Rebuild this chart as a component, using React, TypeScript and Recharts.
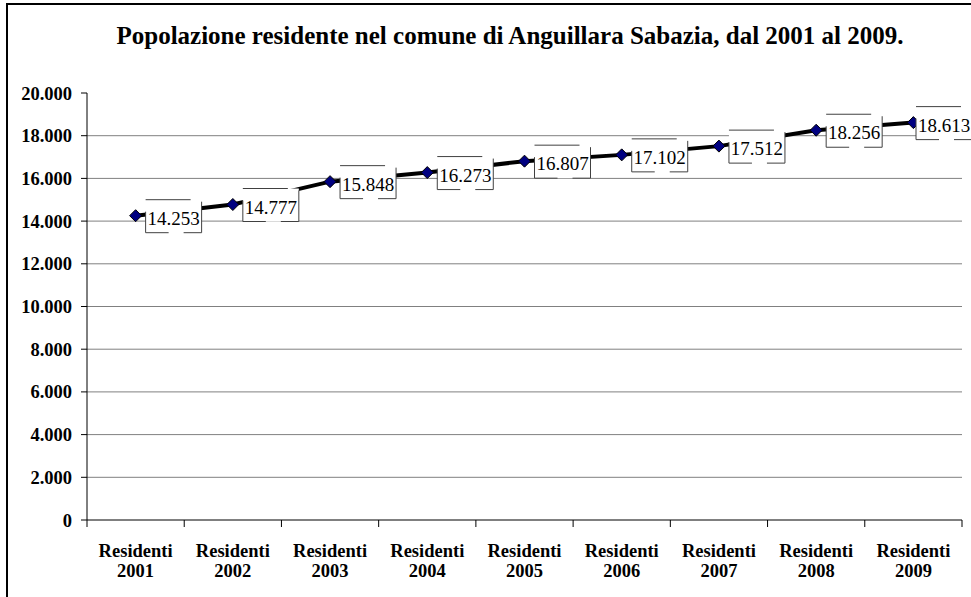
import React from 'react';
import { LineChart, Line, XAxis, YAxis, ReferenceLine, LabelList } from 'recharts';

const categories = ['Residenti 2001', 'Residenti 2002', 'Residenti 2003', 'Residenti 2004', 'Residenti 2005', 'Residenti 2006', 'Residenti 2007', 'Residenti 2008', 'Residenti 2009'];
const residents = [14253, 14777, 15848, 16273, 16807, 17102, 17512, 18256, 18613];
const yTicks = [0, 2000, 4000, 6000, 8000, 10000, 12000, 14000, 16000, 18000, 20000];
const gridValues = [2000, 4000, 6000, 8000, 10000, 12000, 14000, 16000, 18000];
const xTicks = [0.5, 1, 1.5, 2, 2.5, 3, 3.5, 4, 4.5, 5, 5.5, 6, 6.5, 7, 7.5, 8, 8.5, 9, 9.5];
const title = 'Popolazione residente nel comune di Anguillara Sabazia, dal 2001 al 2009.';

const data = categories.map((c, i) => ({ idx: i + 1, name: c, value: residents[i] }));

const SERIF = '"Liberation Serif", "Times New Roman", serif';

const fmt = (v: number) => String(Math.round(v)).replace(/\B(?=(\d{3})+(?!\d))/g, '.');

const Diamond = (props: any) => {
  const { cx, cy } = props;
  if (cx == null || cy == null) return null;
  const r = 6;
  return (
    <polygon
      points={`${cx},${cy - r} ${cx + r},${cy} ${cx},${cy + r} ${cx - r},${cy}`}
      fill="#000080"
      stroke="#000000"
      strokeWidth={1}
    />
  );
};

const BoxLabel = (props: any) => {
  const { y, value } = props;
  if (props.x == null || y == null) return null;
  const shift = Math.max(0, props.x + 66 - 972);
  const x = props.x - shift;
  const l = x + 10;
  const r = x + 66;
  const t = y - 16;
  const b = y + 17;
  return (
    <g>
      <rect x={l} y={t} width={r - l} height={b - t} fill="#ffffff" />
      <path
        d={`M${l},${t} H${x + 55} M${l},${y - 4} V${b} M${l},${b} H${x + 33} M${x + 48},${b} H${r} M${r},${t + 2} V${b}`}
        stroke="#404040"
        strokeWidth={1}
        fill="none"
      />
      <text x={x + 38} y={y + 9} textAnchor="middle" fontFamily={SERIF} fontSize={19} fill="#000">
        {fmt(value)}
      </text>
    </g>
  );
};

const CatTick = (props: any) => {
  const { x, y, payload } = props;
  const v = payload.value;
  if (Math.abs(v - Math.round(v)) > 0.01) {
    return <line x1={x} y1={y} x2={x} y2={y + 7} stroke="#000" strokeWidth={1} />;
  }
  const label = categories[Math.round(v) - 1] || '';
  const parts = label.split(' ');
  return (
    <text x={x} y={y} textAnchor="middle" fontFamily={SERIF} fontWeight="bold" fontSize={18.5} fill="#000">
      <tspan x={x} dy={36.5}>{parts[0]}</tspan>
      <tspan x={x} dy={20}>{parts[1]}</tspan>
    </text>
  );
};

export default function App() {
  return (
    <div style={{ position: 'fixed', left: 0, top: 0, width: 971, height: 597, overflow: 'hidden', background: '#fff' }}>
      <div style={{ position: 'absolute', left: 6, top: 3, width: 990, height: 620, border: '2px solid #000', boxSizing: 'border-box' }} />
      <div
        style={{
          position: 'absolute',
          left: 2,
          top: 23,
          width: 1016,
          textAlign: 'center',
          fontFamily: SERIF,
          fontWeight: 'bold',
          fontSize: 25,
          lineHeight: '25px',
          color: '#000',
          whiteSpace: 'nowrap',
        }}
      >
        {title}
      </div>
      <div style={{ position: 'absolute', left: 0, top: 0 }}>
        <LineChart width={971} height={597} data={data} margin={{ top: 93, right: 9, bottom: 7, left: 7 }}>
          {gridValues.map((v) => (
            <ReferenceLine key={v} y={v} stroke="#808080" strokeWidth={1} ifOverflow="extendDomain" />
          ))}
          <YAxis
            domain={[0, 20000]}
            ticks={yTicks}
            interval={0}
            width={80}
            tickSize={6}
            tickMargin={9}
            tickFormatter={fmt}
            axisLine={{ stroke: '#000' }}
            tickLine={{ stroke: '#000' }}
            tick={{ fontFamily: SERIF, fontWeight: 'bold', fontSize: 18.5, fill: '#000' }}
          />
          <XAxis
            dataKey="idx"
            type="number"
            domain={[0.5, 9.5]}
            ticks={xTicks}
            interval={0}
            height={70}
            tickSize={0}
            tickMargin={0}
            axisLine={{ stroke: '#000' }}
            tickLine={false}
            tick={<CatTick />}
          />
          <Line
            dataKey="value"
            stroke="#000"
            strokeWidth={4}
            dot={<Diamond />}
            activeDot={false}
            isAnimationActive={false}
          >
            <LabelList dataKey="value" content={<BoxLabel />} />
          </Line>
        </LineChart>
      </div>
    </div>
  );
}
